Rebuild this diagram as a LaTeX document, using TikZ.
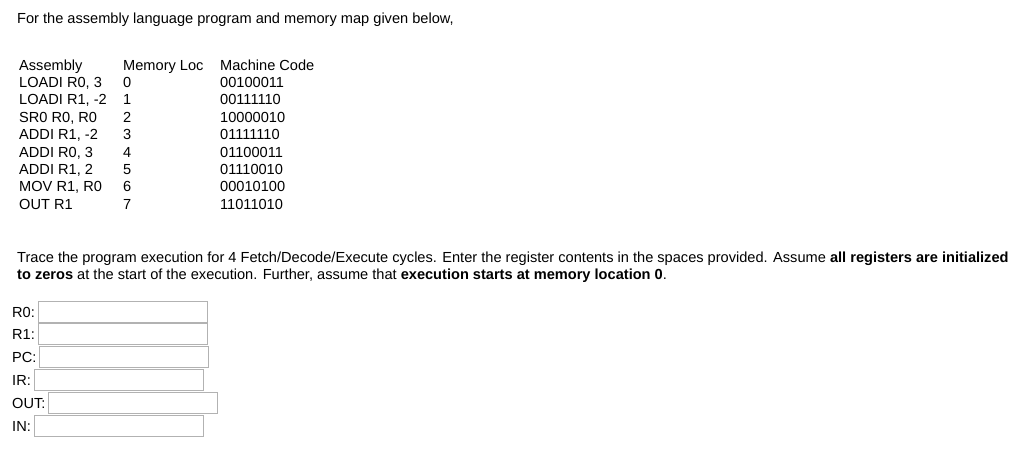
\documentclass[tikz,border=0pt]{standalone}
\usepackage{fontspec}
\setmainfont{Liberation Sans}
\begin{document}
\begin{tikzpicture}[x=1pt,y=-1pt,
  txt/.style={anchor=base west,inner sep=0pt,font=\fontsize{14.6}{16}\selectfont},
  fld/.style={draw=black!30,line width=1pt,minimum height=21pt,inner sep=0pt,anchor=north west}]
\useasboundingbox (0,0) rectangle (1024,453);
\node[txt] (h) at (17,23) {For the assembly language program and memory map given below,};
\foreach \a/\m/\c [count=\i from 0] in {Assembly/Memory Loc/Machine Code,{LOADI R0, 3}/0/00100011,{LOADI R1, -2}/1/00111110,{SR0 R0, R0}/2/10000010,{ADDI R1, -2}/3/01111110,{ADDI R0, 3}/4/01100011,{ADDI R1, 2}/5/01110010,{MOV R1, R0}/6/00010100,{OUT R1}/7/11011010}{
  \node[txt] (a\i) at (19,{70+17.4*\i}) {\a};
  \node[txt] (m\i) at (123,{70+17.4*\i}) {\m};
  \node[txt] (c\i) at (220,{70+17.4*\i}) {\c};
}
\node[txt] (p1) at (17,262) {Trace the program execution for 4 Fetch/Decode/Execute cycles. Enter the register contents in the spaces provided. Assume \textbf{all registers are initialized}};
\node[txt] (p2) at (17,279) {\textbf{to zeros} at the start of the execution. Further, assume that \textbf{execution starts at memory location 0}.};
\foreach \l/\x/\y/\n in {R0:/38/301/r0,R1:/38/323/r1,PC:/39/346/pc,IR:/34/369/ir,OUT:/48/392/out,IN:/34/415/in}{
  \node[txt] (l\n) at (12,\y+16) {\l};
  \node[fld,minimum width=169pt] (b\n) at (\x,\y) {};
}
\end{tikzpicture}
\end{document}
